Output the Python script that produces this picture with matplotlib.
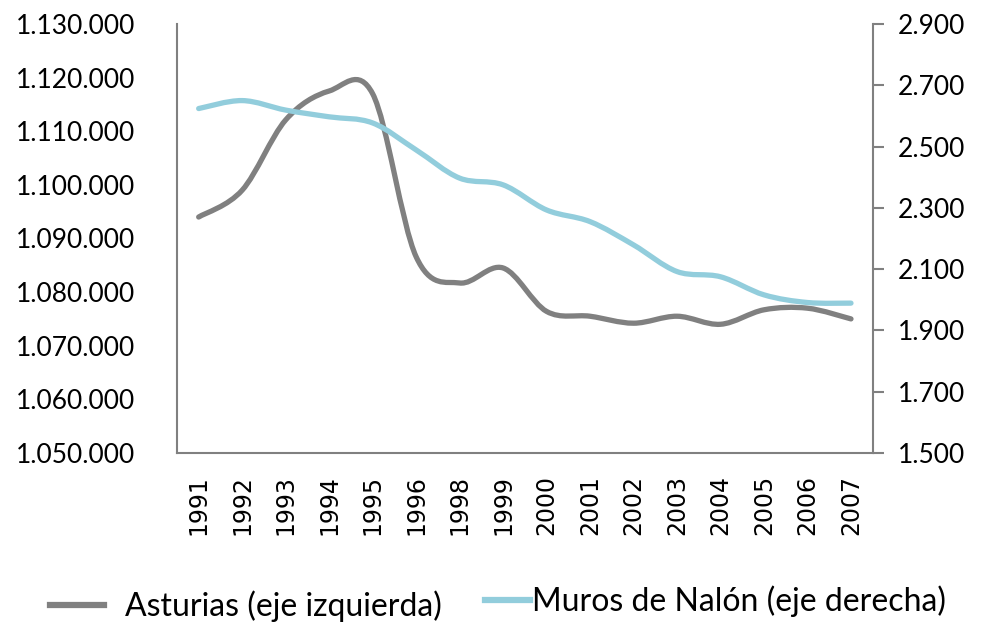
import matplotlib
matplotlib.use('Agg')
import matplotlib.pyplot as plt
import numpy as np
from matplotlib.path import Path
from matplotlib.patches import PathPatch
from matplotlib.lines import Line2D
from matplotlib.ticker import FuncFormatter

years = ['1991', '1992', '1993', '1994', '1995', '1996', '1998', '1999',
         '2000', '2001', '2002', '2003', '2004', '2005', '2006', '2007']
asturias = [1094000, 1099000, 1112100, 1117500, 1117000, 1086600, 1081700, 1084500,
            1076400, 1075500, 1074200, 1075500, 1074000, 1076700, 1077000, 1075000]
muros = [2624, 2650, 2619, 2597, 2577, 2489, 2397, 2375,
         2293, 2255, 2179, 2092, 2075, 2016, 1991, 1989]

GRAY = '#808080'
BLUE = '#92CDDC'


def smooth_path(x, y):
    # curva suavizada tipo Excel (Catmull-Rom -> Bezier)
    p = np.column_stack([x, y]).astype(float)
    n = len(p)
    verts = [p[0]]
    codes = [Path.MOVETO]
    for i in range(n - 1):
        p0 = p[i - 1] if i > 0 else p[i]
        p3 = p[i + 2] if i + 2 < n else p[i + 1]
        c1 = p[i] + (p[i + 1] - p0) / 6
        c2 = p[i + 1] - (p3 - p[i]) / 6
        verts += [c1, c2, p[i + 1]]
        codes += [Path.CURVE4] * 3
    return Path(verts, codes)


def fmt_es(v, pos):
    return f'{v:,.0f}'.replace(',', '.')


plt.rcParams['font.family'] = ['Lato', 'DejaVu Sans']

fig = plt.figure(figsize=(9.94, 6.26), dpi=100)
ax1 = fig.add_axes([0.178, 0.2764, 0.7, 0.6853])
ax2 = ax1.twinx()

x = np.arange(len(years))
ax1.add_patch(PathPatch(smooth_path(x, asturias), fill=False, edgecolor=GRAY,
                        lw=3.8, capstyle='round', zorder=3))
ax2.add_patch(PathPatch(smooth_path(x, muros), fill=False, edgecolor=BLUE,
                        lw=3.8, capstyle='round', zorder=3))

ax1.set_xlim(-0.5, len(years) - 0.5)
ax1.set_ylim(1050000, 1130000)
ax2.set_ylim(1500, 2900)
ax1.set_yticks(np.arange(1050000, 1130001, 10000))
ax2.set_yticks(np.arange(1500, 2901, 200))
ax1.yaxis.set_major_formatter(FuncFormatter(fmt_es))
ax2.yaxis.set_major_formatter(FuncFormatter(fmt_es))
ax1.set_xticks(x, years)

for ax in (ax1, ax2):
    ax.spines['top'].set_visible(False)
    for s in ('left', 'right', 'bottom'):
        ax.spines[s].set_color(GRAY)
        ax.spines[s].set_linewidth(1.5)
ax1.spines['right'].set_visible(False)
ax2.spines['left'].set_visible(False)
ax2.spines['bottom'].set_visible(False)

ax1.tick_params(axis='y', length=0, labelsize=19, pad=30)
ax1.tick_params(axis='x', length=0, pad=16, labelsize=17, labelrotation=90)
for lbl in ax1.get_xticklabels():
    lbl.set_fontfamily('DejaVu Sans')
ax2.tick_params(axis='y', length=8, width=1.5, color=GRAY, labelsize=19, pad=10)

# leyendas separadas para imitar el espaciado del original
leg1 = fig.legend([Line2D([], [], color=GRAY, lw=4.5)], ['Asturias (eje izquierda)'],
                  loc='center left', bbox_to_anchor=(0.05, 0.032), frameon=False,
                  fontsize=23, handlelength=1.7, handletextpad=0.65,
                  borderpad=0, borderaxespad=0)
leg2 = fig.legend([Line2D([], [], color=BLUE, lw=4.5)], ['Muros de Nalón (eje derecha)'],
                  loc='center left', bbox_to_anchor=(0.488, 0.04), frameon=False,
                  fontsize=23, handlelength=1.4, handletextpad=0.08,
                  borderpad=0, borderaxespad=0)

fig.savefig('out.png', dpi=100)
